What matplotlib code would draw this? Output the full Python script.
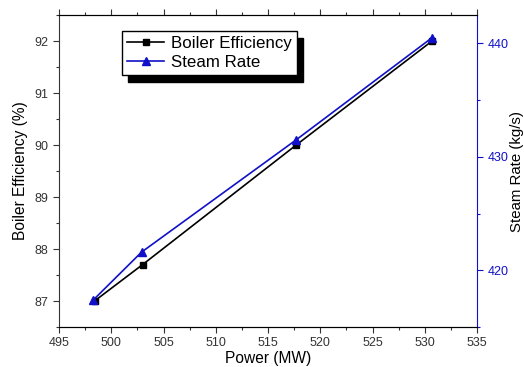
import matplotlib.pyplot as plt
import matplotlib as mpl
from matplotlib.ticker import MultipleLocator

mpl.rcParams["font.family"] = ["Liberation Sans", "DejaVu Sans"]

# data
power = [498.4, 503.0, 517.7, 530.7]
efficiency = [87.0, 87.7, 90.0, 92.0]
steam_power = [498.3, 502.9, 517.7, 530.7]
steam_rate = [417.4, 421.6, 431.5, 440.5]

blue = "#1010c8"

fig = plt.figure(figsize=(5.24, 3.67), dpi=100)
ax = fig.add_axes([59 / 524, 40 / 367, 418 / 524, 312 / 367])
ax2 = ax.twinx()

l1, = ax.plot(power, efficiency, color="black", marker="s", markersize=5, lw=1.2,
              label="Boiler Efficiency")
l2, = ax2.plot(steam_power, steam_rate, color=blue, marker="^", markersize=6, lw=1.2,
               label="Steam Rate")

ax.set_xlim(495, 535)
ax.set_ylim(86.5, 92.5)
ax2.set_ylim(415, 442.5)

ax.xaxis.set_major_locator(MultipleLocator(5))
ax.xaxis.set_minor_locator(MultipleLocator(2.5))
ax.yaxis.set_major_locator(MultipleLocator(1))
ax.yaxis.set_minor_locator(MultipleLocator(0.5))
ax2.yaxis.set_major_locator(MultipleLocator(10))
ax2.yaxis.set_minor_locator(MultipleLocator(5))

ax.tick_params(which="both", direction="out", top=True, labelsize=9, color="#333333",
               labelcolor="#333333", width=0.8)
ax.tick_params(which="major", length=4)
ax.tick_params(which="minor", length=2.5)
ax2.tick_params(which="both", direction="out", colors=blue, labelsize=9, width=0.8)
ax2.tick_params(which="major", length=4)
ax2.tick_params(which="minor", length=2.5)

for s in ["left", "top", "bottom"]:
    ax.spines[s].set_color("#333333")
ax2.spines["right"].set_color(blue)
ax.spines["right"].set_visible(False)
ax2.spines["left"].set_visible(False)

ax.set_xlabel("Power (MW)", fontsize=11.2, labelpad=1)
ax.set_ylabel("Boiler Efficiency (%)", fontsize=11.2, labelpad=5)
ax2.set_ylabel("Steam Rate (kg/s)", fontsize=10.8, labelpad=1)

ax2.legend(handles=[l1, l2], loc="upper left", bbox_to_anchor=(0.151, 0.949),
           borderaxespad=0, fontsize=12.2, frameon=True, fancybox=False,
           edgecolor="black", framealpha=1, handlelength=2.2,
           shadow={"color": "black", "alpha": 1, "ox": 4.5, "oy": -5},
           borderpad=0.3, labelspacing=0.25, handletextpad=0.4)

fig.savefig("out.png", dpi=100)
